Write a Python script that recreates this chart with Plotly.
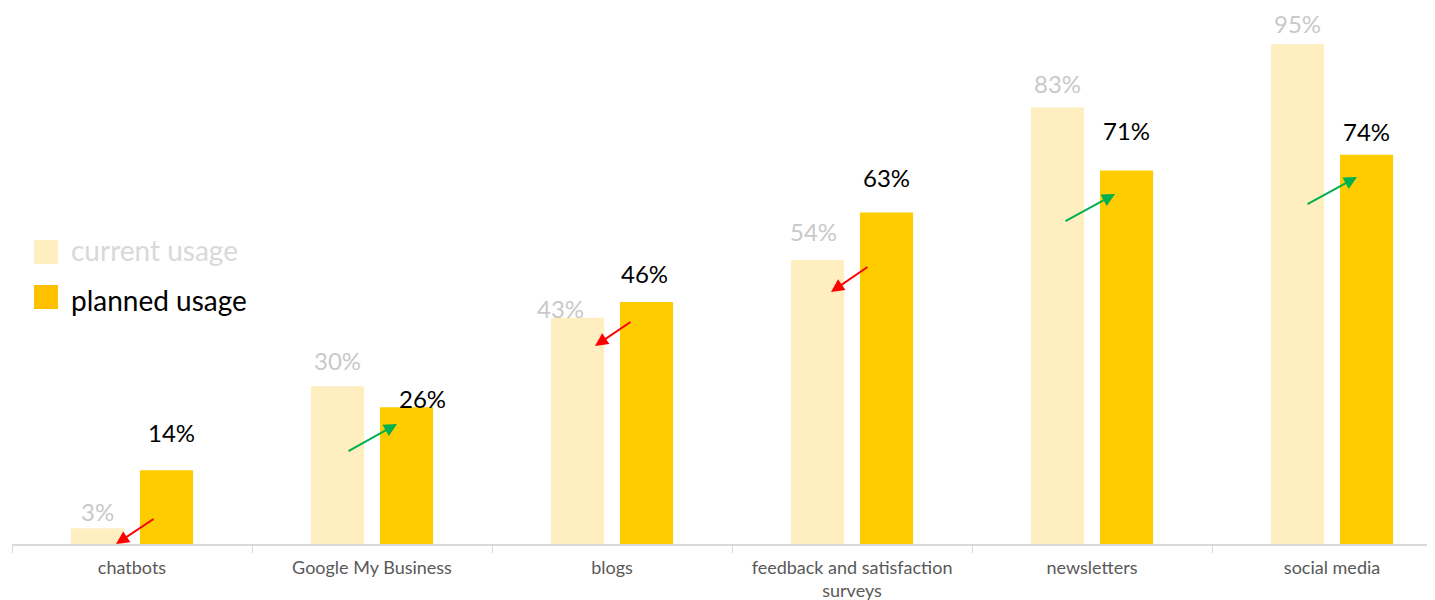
import plotly.graph_objects as go

categories = ["chatbots", "Google My Business", "blogs",
              "feedback and satisfaction<br>surveys", "newsletters", "social media"]
current_usage = [3, 30, 43, 54, 83, 95]
planned_usage = [14, 26, 46, 63, 71, 74]
current_labels = ["3%", "30%", "43%", "54%", "83%", "95%"]
planned_labels = ["14%", "26%", "46%", "63%", "71%", "74%"]

# label placement tweaks (pixels) - style only
cur_dx = [0, 0, -17, -4, 0, 0]
cur_dy = [17, 26, 9, 28, 24, 21]
pl_dx = [5, 16, -2, 0, 0, 0]
pl_dy = [38, 9, 29, 35, 40, 23]

OFF = 8  # body margin of the html page
W, H = 1435 - OFF, 600 - OFF
AXIS_Y = 544 - OFF
ML, MR, MT = 12 - OFF, 0, 18 - OFF
MB = H - AXIS_Y
PW, PH = W - ML - MR, H - MT - MB


def px(x):
    return (x - OFF - ML) / PW


def py(y):
    return (AXIS_Y - (y - OFF)) / PH


C_CUR = "#FEEEC0"
C_PL = "#FFCC00"

fig = go.Figure()
fig.add_bar(x=categories, y=current_usage, name="current usage",
            marker=dict(color=C_CUR, line=dict(width=0)), showlegend=False)
fig.add_bar(x=categories, y=planned_usage, name="planned usage",
            marker=dict(color=C_PL, line=dict(width=0)), showlegend=False)

ann = []
for i, c in enumerate(categories):
    ann.append(dict(x=c, y=current_usage[i], xref="x", yref="y", text=current_labels[i],
                    showarrow=False, xshift=-34.5 + cur_dx[i], yshift=cur_dy[i],
                    yanchor="middle", borderpad=0,
                    font=dict(family="Lato", size=24, color="#C9C9C9")))
    ann.append(dict(x=c, y=planned_usage[i], xref="x", yref="y", text=planned_labels[i],
                    showarrow=False, xshift=34.5 + pl_dx[i], yshift=pl_dy[i],
                    yanchor="middle", borderpad=0,
                    font=dict(family="Lato", size=24, color="#000000")))

# arrows: (tip_x, tip_y, ax, ay, color) in page pixels
arrows = [
    (116, 544, 39, -26, "#FF0000"),
    (397, 424, -50, 28, "#00B050"),
    (595, 346, 37, -25, "#FF0000"),
    (831, 292, 38, -26, "#FF0000"),
    (1115, 194, -51, 28, "#00B050"),
    (1357, 177, -51, 28, "#00B050"),
]
for tx, ty, ax, ay, col in arrows:
    ann.append(dict(x=px(tx), y=py(ty), xref="paper", yref="paper", showarrow=True,
                    ax=ax, ay=ay, axref="pixel", ayref="pixel", text="",
                    arrowhead=2, arrowsize=1.3, arrowwidth=2, arrowcolor=col, standoff=0))

# manual legend: (name, swatch colour, text colour, swatch centre y, text centre y)
legend_items = [("current usage", C_CUR, "#D9D9D9", 252, 250),
                ("planned usage", "#FFC000", "#000000", 297, 300)]
shapes = []
for name, col, tcol, yc, ty in legend_items:
    shapes.append(dict(type="rect", xref="paper", yref="paper",
                       x0=px(34), x1=px(58), y0=py(yc - 12), y1=py(yc + 12),
                       fillcolor=col, line=dict(width=0)))
    ann.append(dict(x=px(69), y=py(ty), xref="paper", yref="paper", text=name,
                    showarrow=False, xanchor="left", yanchor="middle",
                    font=dict(family="Lato", size=28, color=tcol)))

fig.update_layout(
    width=W, height=H,
    margin=dict(l=ML, r=MR, t=MT, b=MB, autoexpand=False),
    paper_bgcolor="white", plot_bgcolor="white",
    barmode="group", bargap=0.425, bargroupgap=0.23,
    annotations=ann, shapes=shapes,
    showlegend=False,
    font=dict(family="Lato"),
)
fig.update_xaxes(range=[-0.5, 5.429], tickson="boundaries", ticks="outside", ticklen=7,
                 tickcolor="#D9D9D9", tickwidth=1, showline=True, linecolor="#D9D9D9",
                 linewidth=2, showgrid=False, automargin=False, ticklabelstandoff=6,
                 tickfont=dict(family="Lato", size=18, color="#595959"))
fig.update_yaxes(range=[0, 100], visible=False, showgrid=False, zeroline=False)

fig.write_html("out.html")
